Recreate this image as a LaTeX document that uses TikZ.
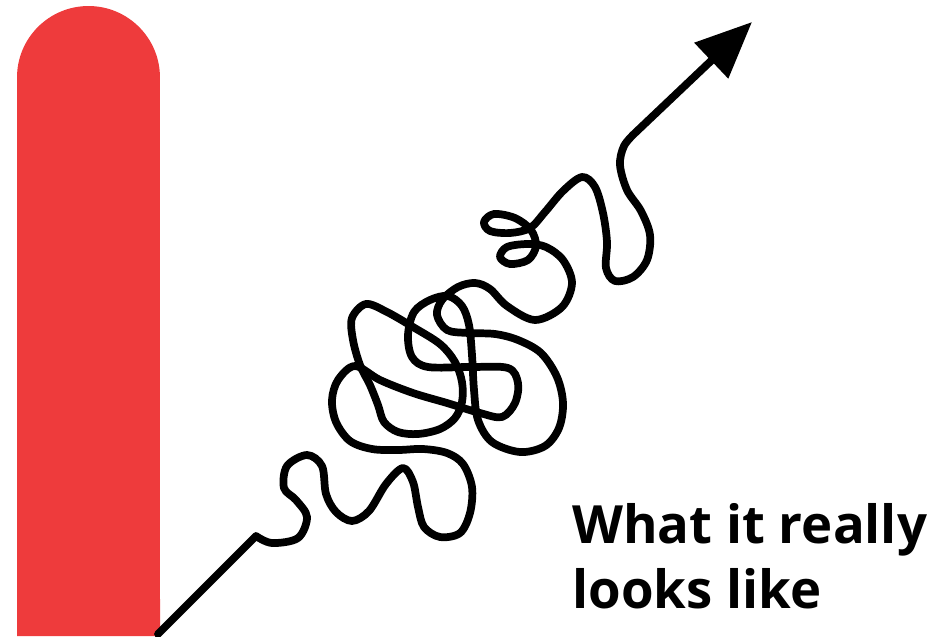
\documentclass[tikz,border=0pt]{standalone}
\usepackage{fontspec}
\setmainfont{Open Sans}
\usetikzlibrary{arrows.meta}

\definecolor{barred}{HTML}{EE3B3C}

\begin{document}
\begin{tikzpicture}[
    x=0.02cm, y=-0.02cm,
    scribble/.style={draw=black, line width=4.4pt, line cap=round, line join=round},
    tipped/.style={-{Triangle[length=32pt, width=27pt]}},
    tagline/.style={anchor=base west, inner sep=0pt, font=\fontsize{30}{36}\selectfont\bfseries}
]
    \useasboundingbox (0,0) rectangle (950,636);

    % red bar on the left
    \fill[barred] (17,636) -- (17,77.5) arc[start angle=180, end angle=0, radius=1.43cm] -- (160,636) -- cycle;

    % the tangled path
    \draw[scribble, tipped] (158,634) -- (256,536)
        -- plot[smooth, tension=0.55] coordinates {
            (256,536) (272,543) (298,538) (307,517) (296,500) (284,488) (287,466) (307,455)
            (322,466) (326,494) (336,512) (352,521) (369,511) (386,484) (403,468) (413,482)
            (418,507) (424,527) (440,537) (460,533) (470,513) (472,487) (463,464) (447,453)
            (423,449) (398,450) (372,449) (350,441) (336,422) (332,400) (338,380) (355,366)
            (380,380) (413,393) (447,403) (480,413) (502,417) (515,403) (518,383) (508,368)
            (470,367) (428,367) (412,357) (408,335) (414,312) (430,300) (448,296) (462,306)
            (469,325) (472,355) (474,390) (478,420) (492,442) (520,452) (545,446) (559,428)
            (563,403) (557,377) (541,353) (518,340) (495,334) (468,333) (447,330) (437,315)
            (442,300) (458,287) (475,283) (490,289) (507,306) (535,320) (562,307) (572,283)
            (563,260) (546,247) (528,244) (507,247) (500,257) (510,264) (528,260) (536,246)
            (531,230) (515,218) (494,214) (484,222) (490,231) (510,233) (530,228) (545,212)
            (563,191) (582,177) (595,187) (603,213) (607,242) (606,268) (615,281) (633,277)
            (647,260) (650,235) (641,211) (627,190) (620,165) (624,146) (635,133)}
        -- (752,22);
    % inner loop of the knot
    \draw[scribble] plot[smooth cycle, tension=0.55] coordinates {
        (366,304) (387,312) (413,327) (440,344) (455,362) (462,382) (462,402) (455,418)
        (440,429) (418,434) (398,432) (384,422) (378,405) (370,385) (360,365) (353,340)
        (352,318)};

    \node[tagline] (line1) at (572,543) {What it really};
    \node[tagline] (line2) at (572,608) {looks like};
\end{tikzpicture}
\end{document}
